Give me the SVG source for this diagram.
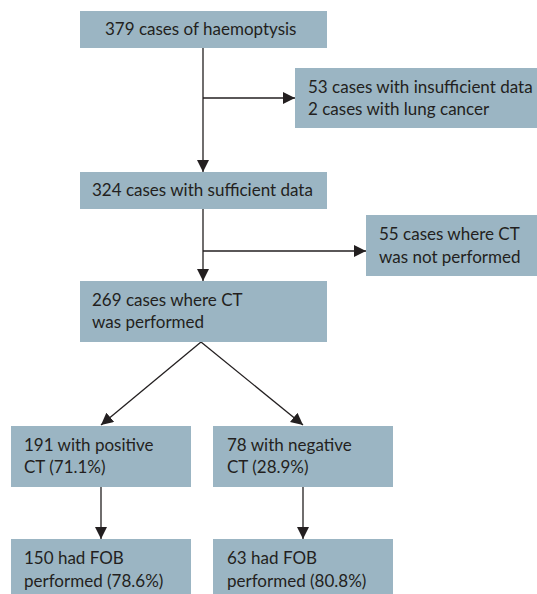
<svg xmlns="http://www.w3.org/2000/svg" width="537" height="594" viewBox="0 0 537 594">
<defs>
<style>
.box{fill:#9bb5c3}
.t{font-family:"Lato","Open Sans","Liberation Sans",sans-serif;font-size:17px;fill:#231f20}
.c{stroke:#231f20;stroke-width:1.3;fill:none}
</style>
<marker id="ah" viewBox="0 0 12 12" refX="12" refY="6" markerWidth="12" markerHeight="12" markerUnits="userSpaceOnUse" orient="auto">
<path d="M0,0 L12,6 L0,12 Z" fill="#231f20"/>
</marker>
</defs>
<rect width="537" height="594" fill="#fff"/>
<g id="connectors">
<path class="c" d="M203,48 V172" marker-end="url(#ah)"/>
<path class="c" d="M203,98 H295" marker-end="url(#ah)"/>
<path class="c" d="M203,209 V281" marker-end="url(#ah)"/>
<path class="c" d="M203,251 H366" marker-end="url(#ah)"/>
<path class="c" d="M201,342 L101,425" marker-end="url(#ah)"/>
<path class="c" d="M201,342 L303,425" marker-end="url(#ah)"/>
<path class="c" d="M101,487 V539" marker-end="url(#ah)"/>
<path class="c" d="M303,487 V539" marker-end="url(#ah)"/>
</g>
<g id="n1"><rect class="box" x="80" y="11" width="247" height="37"/><text class="t" x="105" y="35">379 cases of haemoptysis</text></g>
<g id="n2"><rect class="box" x="295" y="68" width="242" height="60"/><text class="t" x="308" y="93">53 cases with insufficient data</text><text class="t" x="308" y="115">2 cases with lung cancer</text></g>
<g id="n3"><rect class="box" x="80" y="172" width="247" height="37"/><text class="t" x="92" y="196">324 cases with sufficient data</text></g>
<g id="n4"><rect class="box" x="366" y="215" width="171" height="61"/><text class="t" x="379" y="240">55 cases where CT</text><text class="t" x="379" y="263">was not performed</text></g>
<g id="n5"><rect class="box" x="80" y="281" width="247" height="61"/><text class="t" x="92" y="306">269 cases where CT</text><text class="t" x="92" y="328">was performed</text></g>
<g id="n6"><rect class="box" x="11" y="426" width="180" height="61"/><text class="t" x="24" y="451">191 with positive</text><text class="t" x="24" y="473">CT (71.1%)</text></g>
<g id="n7"><rect class="box" x="213" y="426" width="180" height="61"/><text class="t" x="227" y="451">78 with negative</text><text class="t" x="227" y="473">CT (28.9%)</text></g>
<g id="n8"><rect class="box" x="11" y="539" width="180" height="55"/><text class="t" x="24" y="564">150 had FOB</text><text class="t" x="24" y="587">performed (78.6%)</text></g>
<g id="n9"><rect class="box" x="213" y="539" width="180" height="55"/><text class="t" x="227" y="564">63 had FOB</text><text class="t" x="227" y="587">performed (80.8%)</text></g>
</svg>
